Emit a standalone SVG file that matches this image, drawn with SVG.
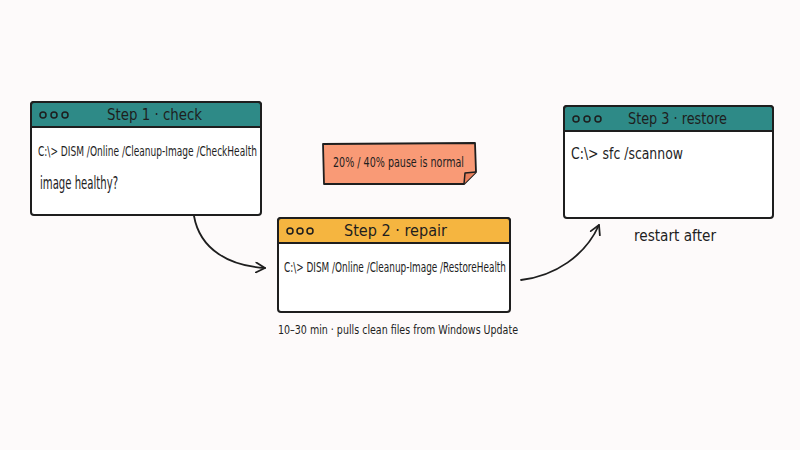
<svg xmlns="http://www.w3.org/2000/svg" width="800" height="450" viewBox="0 0 800 450">
<defs>
<style>
.win{fill:#ffffff;stroke:#1e1e1e;stroke-width:2}
.hdr{stroke:#1e1e1e;stroke-width:2}
.teal{fill:#2e8a87}
.amber{fill:#f5b540}
.dot{fill:none;stroke:#1e1e1e;stroke-width:1.5}
.t{font-family:"DejaVu Sans Condensed","DejaVu Sans",sans-serif;fill:#1e1e1e}
.title{font-size:15px}
.cmd{font-size:14px}
.conn{fill:none;stroke:#1e1e1e;stroke-width:1.8;stroke-linecap:round}
</style>
<marker id="ah" viewBox="0 0 12 12" refX="10" refY="6" markerWidth="12" markerHeight="12" markerUnits="userSpaceOnUse" orient="auto">
<path d="M1,1 L10,6 L1,11" fill="none" stroke="#1e1e1e" stroke-width="1.8" stroke-linecap="round" stroke-linejoin="round"/>
</marker>
</defs>
<rect width="800" height="450" fill="#fdfafa"/>

<g id="step1">
<rect class="win" x="31" y="102" width="230" height="113" rx="3"/>
<path class="hdr teal" d="M31,127 L31,105 Q31,102 34,102 L258,102 Q261,102 261,105 L261,127 Z"/>
<circle class="dot" cx="43" cy="115" r="3"/>
<circle class="dot" cx="54" cy="115" r="3"/>
<circle class="dot" cx="65" cy="115" r="3"/>
<text class="t title" x="107" y="120" textLength="95" lengthAdjust="spacingAndGlyphs">Step 1 · check</text>
<text class="t cmd" x="38" y="156" textLength="219" lengthAdjust="spacingAndGlyphs">C:\&gt; DISM /Online /Cleanup-Image /CheckHealth</text>
<text class="t" x="40" y="189" font-size="17" textLength="78" lengthAdjust="spacingAndGlyphs">image healthy?</text>
</g>

<g id="step2">
<rect class="win" x="278" y="218" width="232" height="94" rx="3"/>
<path class="hdr amber" d="M278,243 L278,221 Q278,218 281,218 L507,218 Q510,218 510,221 L510,243 Z"/>
<circle class="dot" cx="290" cy="231" r="3"/>
<circle class="dot" cx="300" cy="231" r="3"/>
<circle class="dot" cx="310" cy="231" r="3"/>
<text class="t title" x="344" y="236" textLength="103" lengthAdjust="spacingAndGlyphs">Step 2 · repair</text>
<text class="t cmd" x="284" y="272" textLength="222" lengthAdjust="spacingAndGlyphs">C:\&gt; DISM /Online /Cleanup-Image /RestoreHealth</text>
</g>
<g id="step2-caption">
<text class="t" x="278" y="334" font-size="13" textLength="240" lengthAdjust="spacingAndGlyphs">10–30 min · pulls clean files from Windows Update</text>
</g>

<g id="step3">
<rect class="win" x="564" y="106" width="209" height="112" rx="3"/>
<path class="hdr teal" d="M564,131 L564,109 Q564,106 567,106 L770,106 Q773,106 773,109 L773,131 Z"/>
<circle class="dot" cx="576" cy="119" r="3"/>
<circle class="dot" cx="587" cy="119" r="3"/>
<circle class="dot" cx="598" cy="119" r="3"/>
<text class="t title" x="628" y="124" textLength="99" lengthAdjust="spacingAndGlyphs">Step 3 · restore</text>
<text class="t" x="571" y="159" font-size="15" textLength="112" lengthAdjust="spacingAndGlyphs">C:\&gt; sfc /scannow</text>
</g>
<g id="step3-caption">
<text class="t" x="634" y="241" font-size="15" textLength="82" lengthAdjust="spacingAndGlyphs">restart after</text>
</g>

<g id="note">
<path d="M323,144 L475,143 L476,172 L464,184 L324,184 Z" fill="#f99a76" stroke="#1e1e1e" stroke-width="1.8" stroke-linejoin="round"/>
<path d="M464,184 L465,173 L476,172" fill="#e9805c" stroke="#1e1e1e" stroke-width="1.5" stroke-linejoin="round"/>
<text class="t" x="333" y="167" font-size="14" textLength="131" lengthAdjust="spacingAndGlyphs">20% / 40% pause is normal</text>
</g>

<g id="connectors">
<path class="conn" d="M194,216 C200,250 230,266 265,268" marker-end="url(#ah)"/>
<path class="conn" d="M521,280 C555,276 585,256 599,225" marker-end="url(#ah)"/>
</g>
</svg>
